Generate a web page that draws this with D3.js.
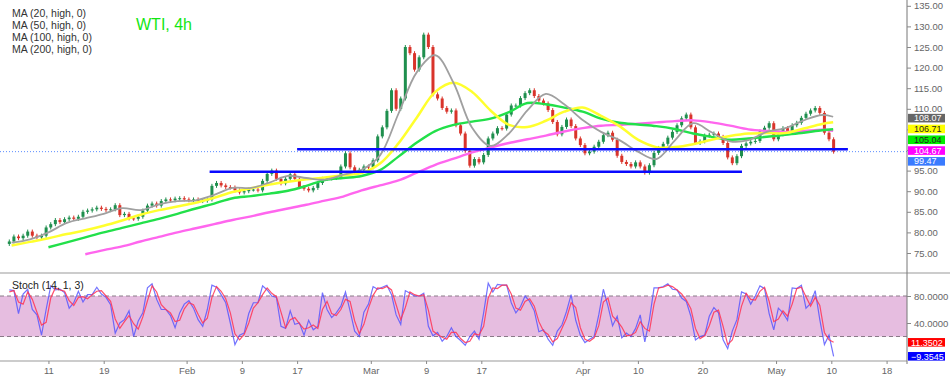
<!DOCTYPE html>
<html>
<head>
<meta charset="utf-8">
<script src="https://cdn.jsdelivr.net/npm/d3@7"></script>
<style>
  body { margin: 0; background: #fff; }
  svg { display: block; font-family: Arial, "Liberation Sans", sans-serif; }
</style>
</head>
<body>
<svg id="chart" width="950" height="378"></svg>
<script>
// ---- data (WTI, 4h) ----
// closes, one value per half trading day, from Jan 4 (second half) to May 10
const closes = [
  77.8, 79, 78.6, 79.2, 80.2, 79.2, 78.8, 79.2, 81.2, 82,
  83, 82.5, 83.2, 83.6, 83.3, 83.8, 85, 85.3, 85.6, 86,
  85.7, 85.4, 85.6, 86.6, 84.2, 84.5, 83.4, 83.3, 83.8, 85.3,
  86.5, 87, 86.5, 87.6, 88, 87.8, 88.2, 88.3, 88, 87.8,
  88, 87.6, 87.7, 88, 91.3, 92, 91.4, 91, 90.9, 90.2,
  89.7, 90, 90.4, 90.4, 90.2, 92.5, 94.2, 95, 93, 91.9,
  93, 94.1, 93, 91, 90.6, 90.2, 90.8, 92, 93, 93.1,
  93.2, 93.4, 96, 99.2, 95.8, 94.7, 95.2, 96, 95.8, 97.5,
  103.3, 105.5, 109.5, 114.5, 110, 112.5, 125, 123.5, 119.5, 122.5,
  128, 125, 113.5, 112.5, 110.2, 109.3, 109.6, 106, 104, 99.8,
  96.2, 97.8, 97, 98.8, 102.8, 104, 105.3, 105.2, 108.6, 110.8,
  110.8, 112.6, 113.8, 114.5, 113.1, 112, 111.3, 109.7, 106.8, 103.8,
  105.6, 107.4, 105.8, 102.8, 101.2, 99.2, 99.6, 100.8, 102, 103.6,
  104.2, 102.5, 98.6, 97.1, 96.6, 96, 97, 96, 94.5, 96.3,
  99.3, 100.5, 101.5, 103, 104.4, 106, 107.7, 108.6, 105.5, 101.7,
  102.1, 103.5, 103.7, 104, 103.2, 101.7, 98.2, 96.8, 98.5, 101,
  101.6, 102, 102.2, 104.5, 105.4, 106.5, 102.6, 103.8, 105.3, 104.6,
  106, 106.6, 107.8, 108.8, 109.6, 110.2, 109, 104.2, 102.6, 99.6
];
const firstOpen = 77.2;

// moving averages, sampled every 2 trading days (day 0 = Jan 5)
const maDays = d3.range(0, 89, 2).concat([89.2]);
const ma20 = [77.5, 78.3, 80.0, 82.3, 83.4, 84.5, 85.9, 85.4, 86.8, 87.6, 87.8, 89.1, 90.8, 90.8, 92.1, 93.7,
  93.2, 92.8, 94.0, 95.2, 98.7, 108.8, 118.9, 123.0, 116.2, 105.4, 101.0, 104.0, 109.6, 113.6, 111.1, 107.3,
  104.4, 102.4, 99.6, 97.8, 102.3, 106.5, 104.3, 102.1, 102.4, 104.4, 105.3, 107.2, 108.5, 108.07];
const ma50 = [76.8, 77.7, 78.6, 79.6, 80.5, 81.6, 82.9, 84.3, 85.4, 86.3, 87.2, 88.4, 89.8, 90.7, 91.6, 92.3,
  92.9, 93.3, 93.9, 94.4, 96.7, 101.6, 107.9, 114.1, 116.3, 114.1, 109.6, 106.1, 105.6, 107.1, 109.3, 110.3,
  108.3, 105.8, 102.5, 100.7, 100.7, 101.4, 102.5, 103.4, 104.0, 104.1, 104.1, 105.2, 106.3, 106.71];
const ma100 = [null, null, 76.4, 77.6, 78.8, 80.0, 81.1, 82.2, 83.3, 84.5, 85.8, 87.0, 88.3, 88.8, 89.4, 90.1,
  91.3, 92.7, 93.2, 93.7, 95.1, 98.4, 101.8, 104.6, 106.1, 106.9, 107.6, 109.2, 111.4, 111.1, 110.3, 109.3,
  107.6, 106.6, 106.2, 105.8, 105.1, 104.0, 103.2, 102.5, 102.8, 103.2, 103.7, 104.2, 104.8, 105.04];
const ma200 = [null, null, null, null, 74.7, 75.7, 76.6, 77.8, 78.9, 80.0, 81.0, 82.0, 83.0, 83.9, 84.9, 85.8,
  86.7, 87.7, 88.7, 90.2, 91.4, 92.6, 94.5, 96.4, 97.9, 99.4, 100.6, 101.7, 102.6, 103.5, 104.5, 105.3,
  105.9, 106.1, 106.4, 106.7, 107.0, 107.2, 106.7, 105.9, 105.0, 104.6, 104.4, 104.6, 104.9, 104.67];

// support / resistance lines drawn on the chart
const levelPrice = [100.2, 94.7];
const levelFrom = [31, 21.5];
const levelTo = [90.8, 79.3];

// Stoch (14, 1, 3), same half-day slots as the closes
const stochK = [
  89, 88, 54, 83, 90, 60, 52, 22, 60, 95, 89, 90, 85, 62, 70, 87, 71, 82, 82, 93,
  83, 78, 67, 25, 40, 45, 58, 20, 43, 55, 92, 98, 75, 60, 60, 51, 33, 55, 68, 73,
  62, 45, 35, 60, 96, 93, 82, 70, 40, 8, 22, 25, 54, 70, 70, 95, 89, 80, 78, 35,
  32, 58, 38, 40, 22, 44, 30, 35, 85, 60, 48, 55, 65, 86, 58, 28, 20, 56, 68, 94,
  90, 93, 96, 82, 52, 38, 88, 84, 80, 80, 84, 35, 21, 26, 13, 20, 33, 20, 14, 7,
  20, 28, 16, 55, 99, 86, 97, 96, 96, 70, 55, 64, 80, 72, 58, 27, 30, 16, 7, 28,
  37, 57, 82, 44, 22, 11, 16, 20, 52, 90, 65, 36, 50, 18, 25, 20, 32, 52, 12, 45,
  92, 92, 94, 98, 90, 89, 77, 72, 50, 15, 20, 22, 50, 63, 55, 15, 2, 28, 45, 86,
  83, 68, 80, 95, 91, 54, 30, 62, 55, 44, 92, 91, 96, 62, 69, 88, 45, 8, 22, -9.35
];
const stochD = [
  86, 88, 71, 68, 86, 75, 56, 37, 41, 77, 92, 89, 87, 73, 66, 78, 79, 76, 82, 87,
  88, 80, 72, 46, 32, 42, 51, 39, 31, 49, 73, 95, 86, 67, 60, 55, 42, 44, 61, 70,
  67, 53, 40, 47, 78, 94, 87, 76, 55, 24, 15, 23, 40, 62, 70, 82, 92, 84, 79, 56,
  33, 45, 48, 39, 31, 33, 37, 32, 60, 72, 54, 51, 60, 75, 72, 43, 24, 38, 62, 81,
  92, 91, 94, 89, 67, 45, 63, 86, 82, 80, 82, 59, 28, 23, 19, 16, 26, 26, 17, 11,
  13, 24, 22, 35, 77, 92, 91, 96, 96, 83, 62, 59, 72, 76, 65, 42, 28, 23, 12, 17,
  32, 47, 70, 63, 33, 16, 13, 18, 36, 71, 77, 50, 43, 34, 21, 22, 26, 42, 32, 28,
  68, 92, 93, 96, 94, 89, 83, 74, 61, 32, 17, 21, 36, 56, 59, 35, 8, 15, 36, 65,
  84, 75, 74, 87, 93, 72, 42, 46, 58, 50, 68, 91, 93, 79, 65, 78, 66, 26, 15, 11.35
];

// axes
const tickDays = [4, 10, 19, 25, 31, 39, 45, 51, 62, 68, 75, 83, 89, 95];
const tickLabels = ["11", "19", "Feb", "9", "17", "Mar", "9", "17", "Apr", "10", "20", "May", "10", "18"];
const priceTicks = [75, 80, 85, 90, 95, 100, 105, 110, 115, 120, 125, 130, 135];
const stochTicks = [40, 80];
const stochBand = [20, 80];

// last-value tags on the right
const priceTagValues = [108.07, 106.71, 105.04, 104.67, 99.47];
const stochTagValues = [11.3502, -9.3545];
const legendLines = ["MA (20, high, 0)", "MA (50, high, 0)", "MA (100, high, 0)", "MA (200, high, 0)"];

// ---- layout ----
const axisX = 907;
const priceBottom = 273;
const stochBottom = 361;
const svg = d3.select("#chart");

const x = d3.scaleLinear().domain([0, 97]).range([11.6, 905]);
const yPrice = d3.scaleLinear().domain([75, 135]).range([253, 5.8]);
const yStoch = d3.scaleLinear().domain([0, 100]).range([350, 282.5]);
const slotDay = i => i * 0.5 - 0.25;

const defs = svg.append("defs");
defs.append("clipPath").attr("id", "clipPrice")
  .append("rect").attr("x", 0).attr("y", 0).attr("width", axisX).attr("height", priceBottom);
defs.append("clipPath").attr("id", "clipStoch")
  .append("rect").attr("x", 0).attr("y", priceBottom).attr("width", axisX).attr("height", stochBottom - priceBottom);

// ---- price panel ----
const gp = svg.append("g").attr("clip-path", "url(#clipPrice)");

// current price dotted line
gp.append("line")
  .attr("x1", 0).attr("x2", axisX)
  .attr("y1", yPrice(closes[closes.length - 1])).attr("y2", yPrice(closes[closes.length - 1]))
  .attr("stroke", "#5b8cff").attr("stroke-width", 1).attr("stroke-dasharray", "1,2");

// candles
const candles = closes.map((c, i) => ({ i, o: i ? closes[i - 1] : firstOpen, c }));
const cg = gp.append("g");
cg.selectAll("line.wick").data(candles).enter().append("line")
  .attr("x1", d => x(slotDay(d.i))).attr("x2", d => x(slotDay(d.i)))
  .attr("y1", d => yPrice(Math.max(d.o, d.c)) - 2).attr("y2", d => yPrice(Math.min(d.o, d.c)) + 2)
  .attr("stroke", d => d.c >= d.o ? "#1f8f4e" : "#d9342b").attr("stroke-width", 1);
cg.selectAll("rect.body").data(candles).enter().append("rect")
  .attr("x", d => x(slotDay(d.i)) - 1.5).attr("width", 3)
  .attr("y", d => yPrice(Math.max(d.o, d.c)))
  .attr("height", d => Math.max(1, Math.abs(yPrice(d.o) - yPrice(d.c))))
  .attr("fill", d => d.c >= d.o ? "#1f8f4e" : "#d9342b");

// moving averages
const maLine = vals => d3.line()
  .defined((d, i) => vals[i] != null)
  .x((d, i) => x(maDays[i]))
  .y((d, i) => yPrice(vals[i]))
  .curve(d3.curveCatmullRom)(maDays);
[[ma200, "#ff66ee", 2.4], [ma100, "#22e04a", 2.4], [ma50, "#ffff2e", 2.5], [ma20, "#a0a0a0", 1.8]]
  .forEach(([vals, col, w]) => {
    gp.append("path").attr("d", maLine(vals))
      .attr("fill", "none").attr("stroke", col).attr("stroke-width", w);
  });

// support / resistance lines
gp.selectAll("line.level").data(levelPrice).enter().append("line")
  .attr("x1", (d, i) => x(levelFrom[i])).attr("x2", (d, i) => x(levelTo[i]))
  .attr("y1", d => yPrice(d)).attr("y2", d => yPrice(d))
  .attr("stroke", "#0a0aff").attr("stroke-width", 2.5);

// ---- stoch panel ----
const gs = svg.append("g").attr("clip-path", "url(#clipStoch)");
gs.append("rect")
  .attr("x", 0).attr("width", axisX)
  .attr("y", yStoch(stochBand[1])).attr("height", yStoch(stochBand[0]) - yStoch(stochBand[1]))
  .attr("fill", "#e6bde0");
gs.selectAll("line.band").data(stochBand).enter().append("line")
  .attr("x1", 0).attr("x2", axisX)
  .attr("y1", d => yStoch(d)).attr("y2", d => yStoch(d))
  .attr("stroke", "#8a7a88").attr("stroke-width", 1).attr("stroke-dasharray", "4,3");

const stochLine = vals => d3.line().x((d, i) => x(slotDay(i))).y(d => yStoch(d))(vals);
gs.append("path").attr("d", stochLine(stochK))
  .attr("fill", "none").attr("stroke", "#5050ff").attr("stroke-opacity", 0.8).attr("stroke-width", 1.2);
gs.append("path").attr("d", stochLine(stochD))
  .attr("fill", "none").attr("stroke", "#ff3355").attr("stroke-opacity", 0.85).attr("stroke-width", 1.2);

// ---- frame ----
svg.append("line").attr("x1", 0).attr("x2", 950).attr("y1", priceBottom).attr("y2", priceBottom)
  .attr("stroke", "#999");
svg.append("line").attr("x1", 0).attr("x2", axisX).attr("y1", stochBottom).attr("y2", stochBottom)
  .attr("stroke", "#999");
svg.append("line").attr("x1", axisX).attr("x2", axisX).attr("y1", 0).attr("y2", stochBottom + 3)
  .attr("stroke", "#777");

// ---- axes ----
const styleAxis = g => {
  g.select(".domain").remove();
  g.selectAll("line").attr("stroke", "#888");
  g.selectAll("text").attr("fill", "#666").attr("font-size", 9.5)
    .attr("font-family", "Arial, 'Liberation Sans', sans-serif");
};
svg.append("g").attr("transform", `translate(${axisX},0)`)
  .call(d3.axisRight(yPrice).tickValues(priceTicks).tickFormat(d3.format(".2f")).tickSize(4).tickPadding(3))
  .call(styleAxis);
svg.append("g").attr("transform", `translate(${axisX},0)`)
  .call(d3.axisRight(yStoch).tickValues(stochTicks).tickFormat(d3.format(".4f")).tickSize(4).tickPadding(3))
  .call(styleAxis);
svg.append("g").attr("transform", `translate(0,${stochBottom})`)
  .call(d3.axisBottom(x).tickValues(tickDays).tickFormat((d, i) => tickLabels[i]).tickSize(3).tickPadding(3))
  .call(styleAxis);

// ---- value tags ----
const tagStyle = [["#666666", "#ffffff"], ["#ffff00", "#222222"], ["#00ee00", "#222222"], ["#ff00ff", "#ffffff"], ["#3a7bff", "#ffffff"]];
let prevY = -Infinity;
const tags = svg.append("g");
priceTagValues.forEach((v, i) => {
  const cy = Math.max(yPrice(v) + 1.3, prevY + 10.8);
  prevY = cy;
  tags.append("rect").attr("x", axisX + 1).attr("y", cy - 4.2).attr("width", 37).attr("height", 8.6)
    .attr("fill", tagStyle[i][0]);
  tags.append("text").attr("x", axisX + 7).attr("y", cy + 3.2).text(d3.format(".2f")(v))
    .attr("fill", tagStyle[i][1]).attr("font-size", 9);
});
const stochTagStyle = [["#ff0000", "#ffffff"], ["#0000ff", "#ffffff"]];
stochTagValues.forEach((v, i) => {
  const cy = yStoch(v);
  tags.append("rect").attr("x", axisX + 1).attr("y", cy - 4.3).attr("width", 37).attr("height", 8.6)
    .attr("fill", stochTagStyle[i][0]);
  tags.append("text").attr("x", axisX + 4).attr("y", cy + 3.2).text(d3.format(".4f")(v))
    .attr("fill", stochTagStyle[i][1]).attr("font-size", 9);
});

// ---- texts ----
svg.append("g").selectAll("text").data(legendLines).enter().append("text")
  .attr("x", 12).attr("y", (d, i) => 17 + i * 12).text(d => d)
  .attr("font-size", 10.5).attr("fill", "#333");
svg.append("text").attr("x", 136).attr("y", 30).text("WTI, 4h")
  .attr("font-size", 16).attr("fill", "#12e612");
svg.append("text").attr("x", 12).attr("y", 289).text("Stoch (14, 1, 3)")
  .attr("font-size", 10.5).attr("fill", "#222");
</script>
</body>
</html>
